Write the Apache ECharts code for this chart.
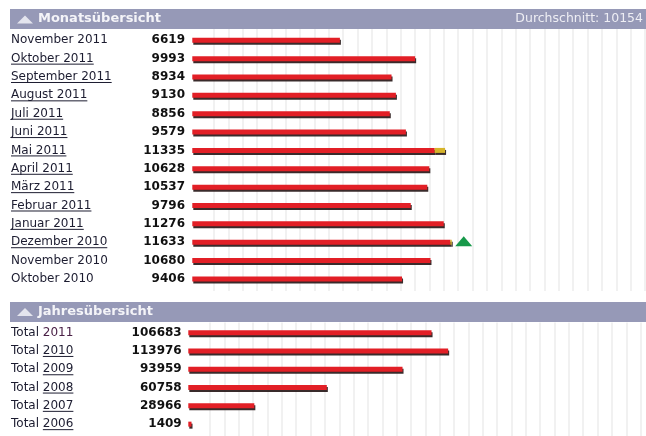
<!DOCTYPE html>
<html>
<head>
<meta charset="UTF-8">
<title>Monatsübersicht</title>
<script src="https://cdn.jsdelivr.net/npm/echarts@6/dist/echarts.min.js"></script>
<style>
  body { margin: 0; padding: 0; background: #fff; }
  #app { width: 646px; height: 436px; }
</style>
</head>
<body>
<div id="app"></div>
<script>
// Monatsübersicht
var monthLabels = ['November 2011', 'Oktober 2011', 'September 2011', 'August 2011', 'Juli 2011', 'Juni 2011',
    'Mai 2011', 'April 2011', 'März 2011', 'Februar 2011', 'Januar 2011', 'Dezember 2010', 'November 2010', 'Oktober 2010'];
var monthTotals = [6619, 9993, 8934, 9130, 8856, 9579, 11335, 10628, 10537, 9796, 11276, 11633, 10680, 9406];
var monthExtra = [0, 0, 0, 0, 0, 0, 465, 0, 0, 0, 0, 60, 0, 0]; // gelber Anteil am Balkenende
var monthLinked = [false, true, true, true, true, true, true, true, true, true, true, true, false, false];
var average = 10154;

// Jahresübersicht
var yearLabels = ['2011', '2010', '2009', '2008', '2007', '2006'];
var yearTotals = [106683, 113976, 93959, 60758, 28966, 1409];
var yearLinked = [false, true, true, true, true, true];

var FONT = '"DejaVu Sans", sans-serif';
var TXT = '#1c1c30';
var RED = '#e21f26';
var YELLOW = '#d6b42a';
var HEAD = '#9699b7';

// unterstrichene Links: 1px Linie unten im Hintergrund des Textes
var ul = document.createElement('canvas');
ul.width = 1;
ul.height = 14;
var g = ul.getContext('2d');
g.fillStyle = TXT;
g.fillRect(0, 12, 1, 1);

var rich = {
    n: {fontFamily: FONT, fontSize: 12, color: TXT, height: 14, lineHeight: 14},
    u: {fontFamily: FONT, fontSize: 12, color: TXT, height: 14, lineHeight: 14, backgroundColor: {image: ul}},
    p: {fontFamily: FONT, fontSize: 12, color: '#4a2046', height: 14, lineHeight: 14}
};

function lineAxis(gi) {
    return {
        type: 'value', gridIndex: gi, min: 0, max: 30, interval: 1,
        axisLine: {show: false}, axisTick: {show: false}, axisLabel: {show: false},
        splitLine: {show: true, lineStyle: {color: '#ececec', width: 1.5}}
    };
}

function valueAxis(gi, max) {
    return {type: 'value', gridIndex: gi, min: 0, max: max, show: false};
}

function nameAxis(gi, data, margin, fmt) {
    return {
        type: 'category', gridIndex: gi, data: data, inverse: true, position: 'left',
        axisLine: {show: false}, axisTick: {show: false}, splitLine: {show: false},
        axisLabel: {interval: 0, align: 'left', margin: margin, formatter: fmt, rich: rich,
            fontFamily: FONT, fontSize: 12, color: TXT}
    };
}

function numberAxis(gi, data, margin) {
    return {
        type: 'category', gridIndex: gi, data: data.map(String), inverse: true, position: 'left',
        axisLine: {show: false}, axisTick: {show: false}, splitLine: {show: false},
        axisLabel: {interval: 0, align: 'right', margin: margin, fontFamily: FONT, fontSize: 12,
            fontWeight: 'bold', color: '#111'}
    };
}

var barStyle = {
    shadowColor: 'rgba(35,20,20,0.9)', shadowOffsetX: 1, shadowOffsetY: 2, shadowBlur: 0
};

var maxIdx = monthTotals.indexOf(Math.max.apply(null, monthTotals));

function grid(left, top, width, height) {
    return {left: left, top: top, width: width, height: height, containLabel: false, outerBoundsMode: 'none'};
}

var chart = echarts.init(document.getElementById('app'), null, {renderer: 'canvas'});
chart.setOption({
    backgroundColor: '#fff',
    animation: false,
    grid: [
        grid(213.9, 29, 431.1, 262),
        grid(192.3, 31.1, 446, 257),
        grid(210.1, 322.5, 430.5, 114),
        grid(188.3, 323.5, 456, 109.8)
    ],
    xAxis: [lineAxis(0), valueAxis(1, 20000), lineAxis(2), valueAxis(3, 200000)],
    yAxis: [
        {type: 'value', gridIndex: 0, show: false},
        nameAxis(1, monthLabels, 181.3, function (v, i) {
            return (monthLinked[i] ? '{u|' : '{n|') + v + '}';
        }),
        numberAxis(1, monthTotals, 7.3),
        {type: 'value', gridIndex: 2, show: false},
        nameAxis(3, yearLabels, 177.3, function (v, i) {
            return '{n|Total }' + (yearLinked[i] ? '{u|' : '{p|') + v + '}';
        }),
        numberAxis(3, yearTotals, 6.6)
    ],
    series: [
        {
            type: 'bar', name: 'Monat', xAxisIndex: 1, yAxisIndex: 1, stack: 'm', barWidth: 5, z: 3,
            data: monthTotals.map(function (v, i) { return v - monthExtra[i]; }),
            itemStyle: Object.assign({color: RED}, barStyle)
        },
        {
            type: 'bar', name: 'Zusatz', xAxisIndex: 1, yAxisIndex: 1, stack: 'm', barWidth: 5, z: 3,
            data: monthExtra.map(function (v) { return v || null; }),
            itemStyle: Object.assign({color: YELLOW}, barStyle)
        },
        {
            type: 'scatter', name: 'Rekord', xAxisIndex: 1, yAxisIndex: 1, z: 4,
            symbol: 'triangle', symbolSize: [17, 10], symbolOffset: [12, -1],
            data: [[monthTotals[maxIdx], monthLabels[maxIdx]]],
            itemStyle: {color: '#17994a', opacity: 1}
        },
        {
            type: 'bar', name: 'Jahr', xAxisIndex: 3, yAxisIndex: 4, barWidth: 5, z: 3,
            data: yearTotals,
            itemStyle: Object.assign({color: RED}, barStyle)
        }
    ],
    graphic: [
        {type: 'rect', shape: {x: 10, y: 9, width: 636, height: 20}, style: {fill: HEAD}},
        {type: 'polygon', shape: {points: [[17, 23.5], [25, 15.5], [33, 23.5]]}, style: {fill: '#e4e5ee'}},
        {type: 'text', x: 38, y: 19, style: {text: 'Monatsübersicht', font: 'bold 13px ' + FONT,
            fill: '#f4f4f8', verticalAlign: 'middle'}},
        {type: 'text', x: 643, y: 19, style: {text: 'Durchschnitt: ' + average, font: '12.5px ' + FONT,
            fill: '#eeeef4', align: 'right', verticalAlign: 'middle'}},
        {type: 'rect', shape: {x: 10, y: 302, width: 636, height: 20}, style: {fill: HEAD}},
        {type: 'polygon', shape: {points: [[17, 316], [25, 308], [33, 316]]}, style: {fill: '#e4e5ee'}},
        {type: 'text', x: 38, y: 312, style: {text: 'Jahresübersicht', font: 'bold 13px ' + FONT,
            fill: '#f4f4f8', verticalAlign: 'middle'}}
    ]
});
</script>
</body>
</html>
